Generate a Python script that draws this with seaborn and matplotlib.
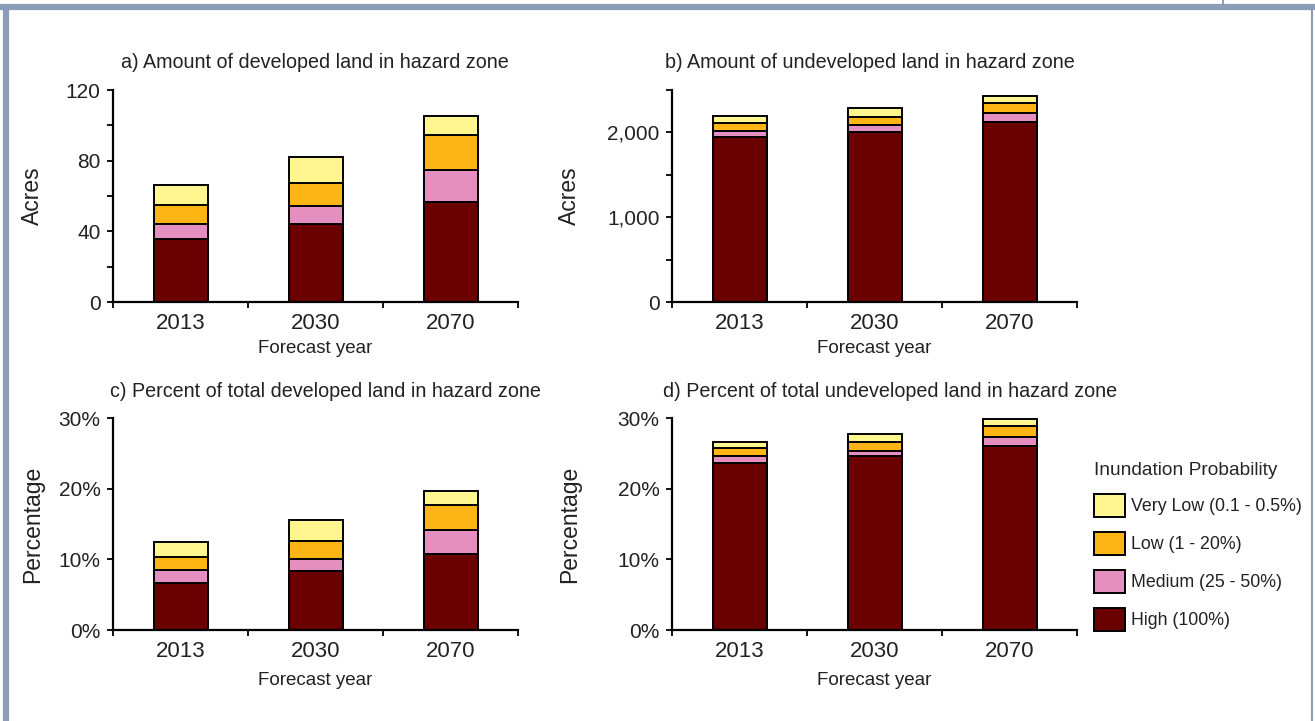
import matplotlib
matplotlib.use("Agg")
import pandas as pd
import matplotlib.pyplot as plt
import seaborn as sns
from matplotlib.patches import Patch
from matplotlib.lines import Line2D
from matplotlib.ticker import MultipleLocator, FixedLocator, FuncFormatter, PercentFormatter

years = ["2013", "2030", "2070"]
levels = ["Very Low (0.1 - 0.5%)", "Low (1 - 20%)", "Medium (25 - 50%)", "High (100%)"]
colors = ["#FFF68F", "#FDB515", "#E48FBF", "#6B0000"]

# a) developed land in hazard zone (acres)
dev_high = [35.4, 44.0, 56.7]
dev_medium = [9.0, 10.3, 18.0]
dev_low = [10.4, 12.8, 19.8]
dev_verylow = [11.4, 15.1, 10.9]

# b) undeveloped land in hazard zone (acres)
undev_high = [1940, 2010, 2118]
undev_medium = [72, 77, 106]
undev_low = [94, 98, 117]
undev_verylow = [82, 97, 91]

# c) percent of total developed land
devpct_high = [6.7, 8.4, 10.8]
devpct_medium = [1.8, 1.7, 3.3]
devpct_low = [1.8, 2.5, 3.6]
devpct_verylow = [2.2, 2.9, 2.0]

# d) percent of total undeveloped land
undevpct_high = [23.7, 24.6, 26.0]
undevpct_medium = [0.9, 0.8, 1.3]
undevpct_low = [1.1, 1.2, 1.5]
undevpct_verylow = [0.9, 1.2, 1.0]

sns.set_theme(style="ticks")
plt.rcParams["font.family"] = ["Liberation Sans", "DejaVu Sans"]
narrow = ["Liberation Sans Narrow", "Liberation Sans", "DejaVu Sans"]

W, H = 1315, 721
fig = plt.figure(figsize=(W / 100, H / 100), dpi=100)
fig.patch.set_facecolor("white")


def px_axes(x0, y0, x1, y1):
    # pixel box (top-left origin) -> figure axes
    return fig.add_axes([x0 / W, 1 - y1 / H, (x1 - x0) / W, (y1 - y0) / H])


def stacked(ax, high, medium, low, verylow):
    df = pd.DataFrame({"year": years, "High": high, "Medium": medium,
                       "Low": low, "Very Low": verylow}).set_index("year")
    cum = df[["High", "Medium", "Low", "Very Low"]].cumsum(axis=1)
    # tallest first so each lower segment is painted over it
    for col, c in zip(["Very Low", "Low", "Medium", "High"], colors):
        sns.barplot(x=cum.index, y=cum[col].values, color=c, saturation=1,
                    edgecolor="black", linewidth=1.4, width=0.4, ax=ax)


def style(ax, title, ylabel, ymax, major, minor, ylab_x, xlab_y, title_x, title_y):
    ax.set_xlim(-0.5, 2.5)
    ax.set_ylim(0, ymax)
    ax.yaxis.set_major_locator(MultipleLocator(major))
    if minor:
        ax.yaxis.set_minor_locator(MultipleLocator(minor))
    ax.xaxis.set_minor_locator(FixedLocator([-0.5, 0.5, 1.5, 2.5]))
    ax.tick_params(axis="x", which="major", length=0, pad=8, labelsize=16, colors="#222222")
    ax.tick_params(axis="x", which="minor", length=4, width=1.3, color="black")
    ax.tick_params(axis="y", which="both", length=4, width=1.3, color="black")
    ax.tick_params(axis="y", which="major", pad=5, labelsize=15, labelcolor="#222222")
    sns.despine(ax=ax)
    for s in ["left", "bottom"]:
        ax.spines[s].set_color("black")
        ax.spines[s].set_linewidth(1.6)
    ax.set_xlabel("Forecast year", fontsize=13.5, family=narrow, color="#222222")
    ax.xaxis.set_label_coords(0.5, xlab_y)
    ax.set_ylabel(ylabel, fontsize=16.5, color="#222222")
    ax.yaxis.set_label_coords(ylab_x, 0.5)
    ax.text(title_x, title_y, title, transform=ax.transAxes, ha="left", va="center",
            fontsize=14.2, color="#222222")


ax_a = px_axes(113, 90, 518, 302)
ax_b = px_axes(672, 90, 1077, 302)
ax_c = px_axes(113, 418, 518, 630)
ax_d = px_axes(672, 418, 1077, 630)

stacked(ax_a, dev_high, dev_medium, dev_low, dev_verylow)
stacked(ax_b, undev_high, undev_medium, undev_low, undev_verylow)
stacked(ax_c, devpct_high, devpct_medium, devpct_low, devpct_verylow)
stacked(ax_d, undevpct_high, undevpct_medium, undevpct_low, undevpct_verylow)

style(ax_a, "a) Amount of developed land in hazard zone", "Acres", 120, 40, 20,
      -0.17, -0.18, 0.02, 1.13)
style(ax_b, "b) Amount of undeveloped land in hazard zone", "Acres", 2500, 1000, 500,
      -0.225, -0.18, -0.017, 1.13)
style(ax_c, "c) Percent of total developed land in hazard zone", "Percentage", 30, 10, None,
      -0.17, -0.2, -0.007, 1.123)
style(ax_d, "d) Percent of total undeveloped land in hazard zone", "Percentage", 30, 10, None,
      -0.225, -0.2, -0.022, 1.123)

ax_b.yaxis.set_major_formatter(FuncFormatter(lambda v, p: f"{v:,.0f}"))
ax_c.yaxis.set_major_formatter(PercentFormatter(decimals=0))
ax_d.yaxis.set_major_formatter(PercentFormatter(decimals=0))

handles = [Patch(facecolor=c, edgecolor="black", linewidth=1.4) for c in colors]
leg = fig.legend(handles, levels, loc="upper left", bbox_to_anchor=(1094 / W, 1 - 462 / H),
                 frameon=False, title="Inundation Probability", alignment="left",
                 prop={"family": narrow, "size": 12.8},
                 handlelength=1.74, handleheight=1.61, labelspacing=0.84,
                 handletextpad=0.34, borderpad=0, borderaxespad=0)
leg.get_title().set_fontfamily(narrow)
leg.get_title().set_fontsize(13.8)
for t in leg.get_texts():
    t.set_color("#222222")

# page frame around the figure
frame = "#8C9DB8"
fig.add_artist(Line2D([0, 1], [1 - 7 / H, 1 - 7 / H], color=frame, lw=4.5, transform=fig.transFigure))
fig.add_artist(Line2D([6 / W, 6 / W], [0, 1 - 7 / H], color=frame, lw=4.5, transform=fig.transFigure))
fig.add_artist(Line2D([1312 / W, 1312 / W], [0, 1 - 7 / H], color=frame, lw=1.5, transform=fig.transFigure))
fig.add_artist(Line2D([1223 / W, 1223 / W], [1 - 7 / H, 1], color=frame, lw=1.5, transform=fig.transFigure))

fig.savefig("out.png", dpi=100, facecolor="white")
